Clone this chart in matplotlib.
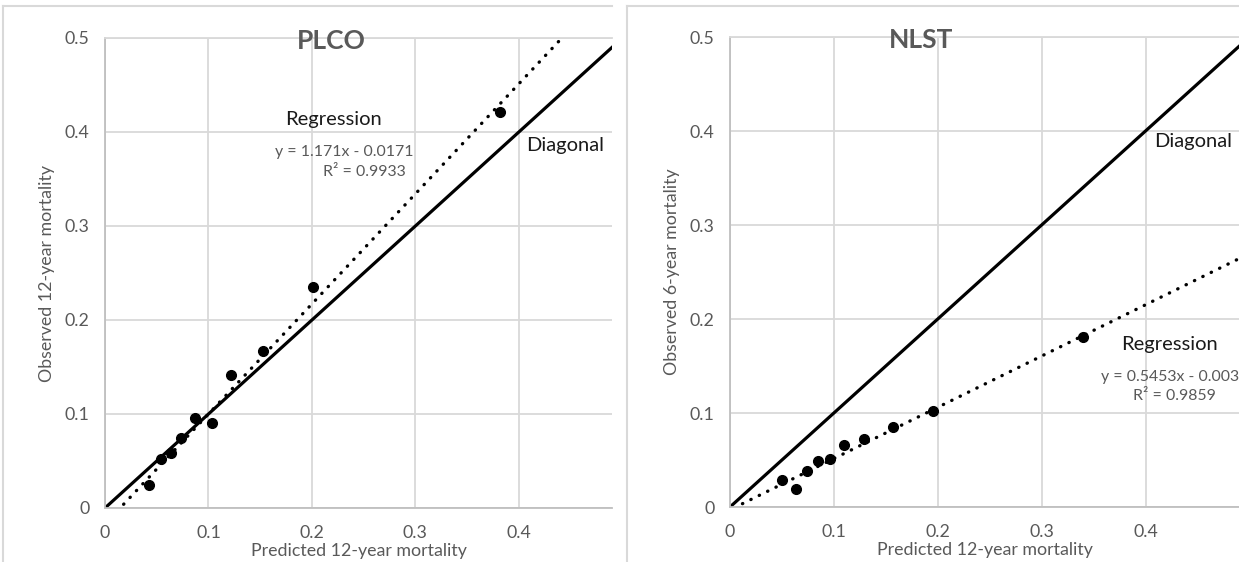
import numpy as np
import matplotlib
matplotlib.use('Agg')
import matplotlib.pyplot as plt
from matplotlib.lines import Line2D

plt.rcParams['font.family'] = ['Lato', 'DejaVu Sans']

# PLCO: predicted vs observed 12-year mortality
plco_pred = [0.043, 0.054, 0.064, 0.073, 0.087, 0.103, 0.122, 0.153, 0.201, 0.382]
plco_obs = [0.024, 0.052, 0.059, 0.075, 0.096, 0.090, 0.141, 0.167, 0.235, 0.421]
plco_fit = (1.171, -0.0171)
plco_fit_x = (0.018, 0.44)

# NLST: predicted 12-year vs observed 6-year mortality
nlst_pred = [0.050, 0.064, 0.074, 0.085, 0.096, 0.110, 0.129, 0.157, 0.195, 0.340]
nlst_obs = [0.029, 0.019, 0.038, 0.049, 0.051, 0.066, 0.072, 0.085, 0.102, 0.181]
nlst_fit = (0.5453, -0.003)
nlst_fit_x = (0.012, 0.49)

ticks = [0, 0.1, 0.2, 0.3, 0.4, 0.5]
tick_labels = ['0', '0.1', '0.2', '0.3', '0.4', '0.5']

GRAY = '#595959'
GRID = '#d9d9d9'
AXIS = '#bfbfbf'

W, H = 1239, 562
fig = plt.figure(figsize=(W / 100, H / 100), dpi=100)

ax1 = fig.add_axes([105 / W, (H - 508) / H, 507 / W, 470 / H])
ax2 = fig.add_axes([730 / W, (H - 507) / H, 509 / W, 470 / H])


def style(ax, ylabel):
    ax.set_xlim(0, 0.49)
    ax.set_ylim(0, 0.5)
    ax.set_xticks(ticks[:-1])
    ax.set_xticklabels(tick_labels[:-1])
    ax.set_yticks(ticks)
    ax.set_yticklabels(tick_labels)
    ax.grid(True, color=GRID, lw=1.3)
    ax.set_axisbelow(True)
    ax.spines['right'].set_visible(False)
    ax.spines['top'].set_color(GRID)
    ax.spines['top'].set_linewidth(1.3)
    for s in ('left', 'bottom'):
        ax.spines[s].set_color(AXIS)
        ax.spines[s].set_linewidth(1.3)
    ax.tick_params(axis='both', length=0, labelsize=12.8, labelcolor=GRAY)
    ax.tick_params(axis='y', pad=11)
    ax.tick_params(axis='x', pad=12)
    ax.set_xlabel('Predicted 12-year mortality', fontsize=12.8, color=GRAY)
    ax.xaxis.set_label_coords(0.5, -0.092)
    ax.xaxis.label.set_va('center')
    ax.set_ylabel(ylabel, fontsize=12.8, color=GRAY)
    ax.yaxis.set_label_coords(-0.114, 0.5)
    ax.yaxis.label.set_va('center')


def draw(ax, px, py, fit, fit_x):
    ax.plot([0, 0.5], [0, 0.5], color='black', lw=2.3, solid_capstyle='butt')
    fx = np.array(fit_x)
    ax.plot(fx, fit[0] * fx + fit[1], color='black', lw=2.4,
            linestyle=(0, (0.1, 2.7)), dash_capstyle='round')
    ax.plot(px, py, 'o', color='black', ms=7, zorder=5)


style(ax1, 'Observed 12-year mortality')
style(ax2, 'Observed 6-year mortality')
draw(ax1, plco_pred, plco_obs, plco_fit, plco_fit_x)
draw(ax2, nlst_pred, nlst_obs, nlst_fit, nlst_fit_x)

# annotations
ax1.text(0.219, 0.497, 'PLCO', fontsize=19, fontweight='bold', color=GRAY,
         ha='center', va='center')
ax1.text(0.221, 0.413, 'Regression', fontsize=14.5, color='#1a1a1a', ha='center', va='center')
ax1.text(0.231, 0.379, 'y = 1.171x - 0.0171', fontsize=11.4, color=GRAY, ha='center', va='center')
ax1.text(0.251, 0.357, 'R² = 0.9933', fontsize=11.4, color=GRAY, ha='center', va='center')
ax1.text(0.445, 0.386, 'Diagonal', fontsize=14.5, color='#1a1a1a', ha='center', va='center',
         clip_on=False)

ax2.text(0.184, 0.497, 'NLST', fontsize=19, fontweight='bold', color=GRAY,
         ha='center', va='center')
ax2.text(0.446, 0.389, 'Diagonal', fontsize=14.5, color='#1a1a1a', ha='center', va='center',
         clip_on=False)
ax2.text(0.4235, 0.173, 'Regression', fontsize=14.5, color='#1a1a1a', ha='center', va='center',
         clip_on=False)
ax2.text(0.4235, 0.138, 'y = 0.5453x - 0.003', fontsize=11.4, color=GRAY, ha='center',
         va='center', clip_on=False)
ax2.text(0.428, 0.118, 'R² = 0.9859', fontsize=11.4, color=GRAY, ha='center', va='center',
         clip_on=False)

# chart area borders (cropped panels)
def fx(px):
    return px / W


def fy(py):
    return 1 - py / H


for x0, x1 in ((3, 612), (627, W)):
    fig.add_artist(Line2D([fx(x0), fx(x0)], [fy(6), 0], color=GRID, lw=1.5))
    fig.add_artist(Line2D([fx(x0), fx(x1)], [fy(6), fy(6)], color=GRID, lw=1.5))

fig.savefig('out.png', dpi=100)
